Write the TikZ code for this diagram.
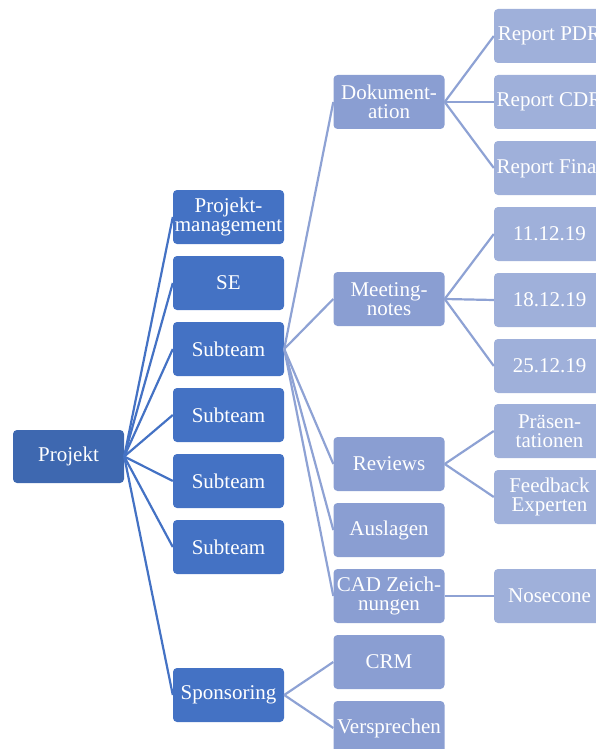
\documentclass[tikz,border=0pt]{standalone}
\usepackage{fontspec}
\setmainfont{Liberation Serif}
\definecolor{cRoot}{HTML}{3E68B0}
\definecolor{cOne}{HTML}{4472C4}
\definecolor{cTwo}{HTML}{8A9ED2}
\definecolor{cThree}{HTML}{9FB0DA}
\definecolor{lOne}{HTML}{4472C4}
\definecolor{lTwo}{HTML}{8EA2D4}
\begin{document}
\begin{tikzpicture}[x=1pt,y=-1pt,
  box/.style={rounded corners=4pt, minimum width=111pt, minimum height=54pt, inner sep=0pt,
    text=white, align=center, font=\fontsize{21}{19.5}\selectfont},
  rootbox/.style={box, fill=cRoot},
  onebox/.style={box, fill=cOne},
  twobox/.style={box, fill=cTwo},
  threebox/.style={box, fill=cThree},
  linkone/.style={draw=lOne, line width=2.2pt},
  linktwo/.style={draw=lTwo, line width=2.2pt}]
\useasboundingbox (0,0) rectangle (596,749);
% root
\node[rootbox, minimum height=53pt] (p) at (68.5,456.5) {Projekt};
% level 1
\node[onebox] (pm) at (228.5,217) {Projekt-\\management};
\node[onebox] (se) at (228.5,283) {SE};
\node[onebox] (s1) at (228.5,349) {Subteam};
\node[onebox] (s2) at (228.5,415) {Subteam};
\node[onebox] (s3) at (228.5,481) {Subteam};
\node[onebox] (s4) at (228.5,547) {Subteam};
\node[onebox] (sp) at (228.5,695) {Sponsoring};
% level 2
\node[twobox] (dok) at (389,102) {Dokument-\\ation};
\node[twobox] (mn) at (389,299) {Meeting-\\notes};
\node[twobox] (rev) at (389,464) {Reviews};
\node[twobox] (aus) at (389,530) {Auslagen};
\node[twobox] (cad) at (389,596) {CAD Zeich-\\nungen};
\node[twobox] (crm) at (389,662) {CRM};
\node[twobox] (ver) at (389,728) {Versprechen};
% level 3
\node[threebox] (pdr) at (549.5,36) {Report PDR};
\node[threebox] (cdr) at (549.5,102) {Report CDR};
\node[threebox] (fin) at (549.5,168) {Report Final};
\node[threebox] (d1) at (549.5,234) {11.12.19};
\node[threebox] (d2) at (549.5,300) {18.12.19};
\node[threebox] (d3) at (549.5,366) {25.12.19};
\node[threebox] (pra) at (549.5,431) {Präsen-\\tationen};
\node[threebox] (fb) at (549.5,497) {Feedback\\Experten};
\node[threebox] (nose) at (549.5,596) {Nosecone};
% connectors root
\foreach \c in {pm,se,s1,s2,s3,s4,sp}
  \draw[linkone] (p.east) -- (\c.west);
% connectors subteam
\foreach \c in {dok,mn,rev,aus,cad}
  \draw[linktwo] (s1.east) -- (\c.west);
\foreach \c in {crm,ver}
  \draw[linktwo] (sp.east) -- (\c.west);
\foreach \c in {pdr,cdr,fin}
  \draw[linktwo] (dok.east) -- (\c.west);
\foreach \c in {d1,d2,d3}
  \draw[linktwo] (mn.east) -- (\c.west);
\foreach \c in {pra,fb}
  \draw[linktwo] (rev.east) -- (\c.west);
\draw[linktwo] (cad.east) -- (nose.west);
\end{tikzpicture}
\end{document}
